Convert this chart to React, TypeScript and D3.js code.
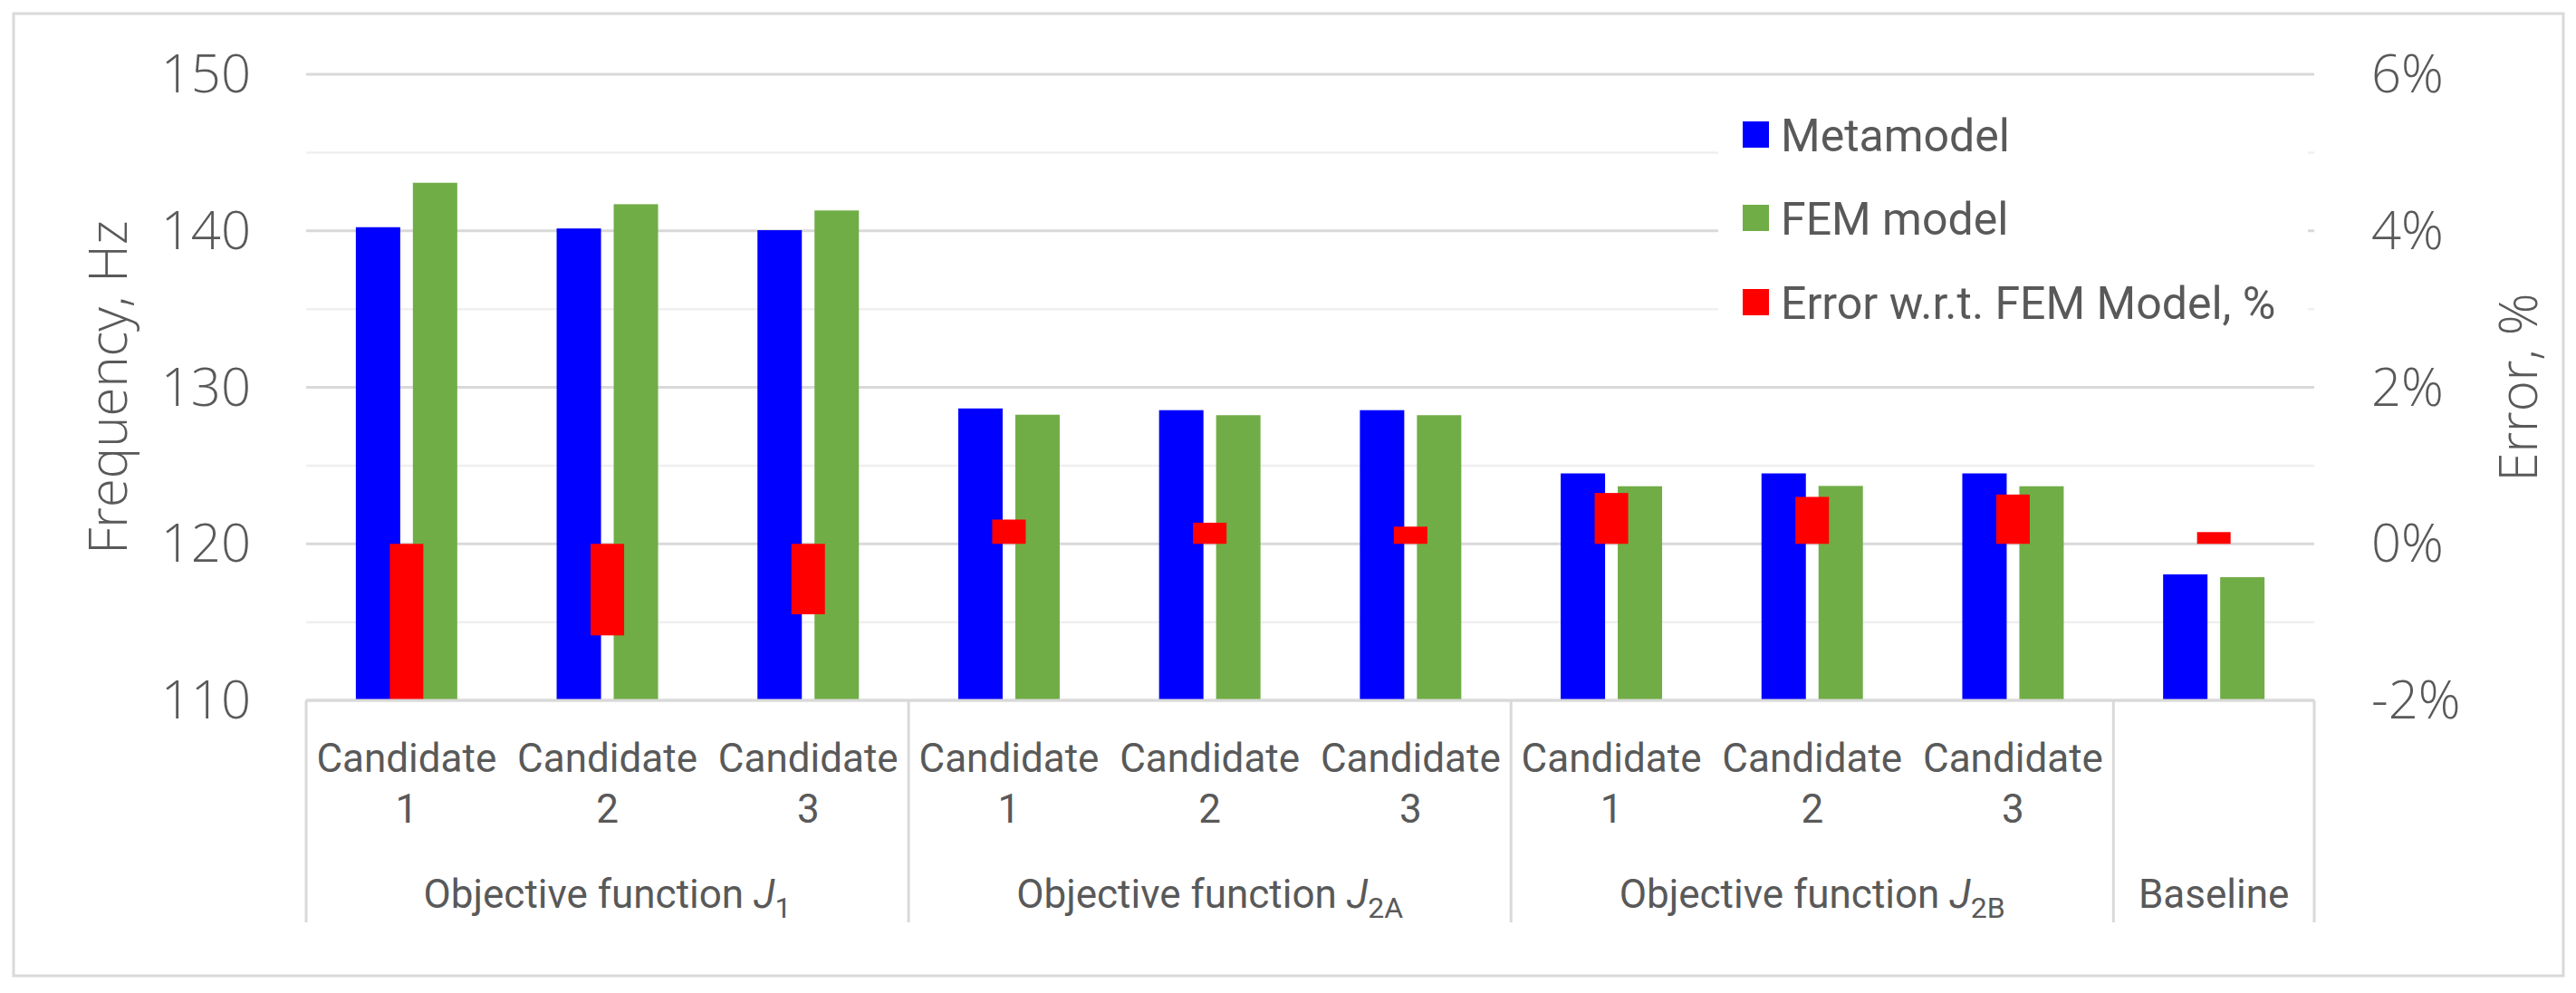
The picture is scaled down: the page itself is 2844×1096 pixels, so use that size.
import { useEffect, useRef } from 'react';
import * as d3 from 'd3';

// Chart values
const candidates = ['1', '2', '3', '1', '2', '3', '1', '2', '3', ''];
const groupNames = ['Objective function ', 'Objective function ', 'Objective function ', 'Baseline'];
const groupSubs = ['1', '2A', '2B', ''];
const groupSizes = [3, 3, 3, 1];
const metamodel = [140.23, 140.15, 140.04, 128.65, 128.54, 128.54, 124.5, 124.5, 124.5, 118.05];
const femModel = [143.07, 141.7, 141.3, 128.25, 128.22, 128.22, 123.68, 123.7, 123.68, 117.87];
const errorPct = [-1.99, -1.17, -0.9, 0.31, 0.27, 0.22, 0.65, 0.6, 0.63, 0.15];
const freqTicks = [110, 120, 130, 140, 150];
const freqMinorTicks = [115, 125, 135, 145];
const errorTicks = [-2, 0, 2, 4, 6];
const legendLabels = ['Metamodel', 'FEM model', 'Error w.r.t. FEM Model, %'];

const W = 2844;
const H = 1096;
const COLORS = ['#0000ff', '#70ad47', '#ff0000'];
const TEXT = '#595959';
const GRID = '#d9d9d9';
const numFont = "'Open Sans', 'DejaVu Sans', sans-serif";
const labelFont = "Roboto, 'Liberation Sans', sans-serif";

const App = () => {
  const svgRef = useRef<SVGSVGElement>(null);

  useEffect(() => {
    if (!svgRef.current) return;
    const svg = d3.select(svgRef.current);
    svg.selectAll('*').remove();

    const plot = { left: 338, right: 2555, top: 82, bottom: 773 };

    const idx = metamodel.map((_, i) => i);
    const x = d3.scaleBand<number>().domain(idx).range([plot.left, plot.right]);
    const sub = d3.scaleBand<string>()
      .domain(['meta', 'fem'])
      .range([0, x.bandwidth()])
      .paddingInner(0.222)
      .paddingOuter(0.871);
    const yL = d3.scaleLinear().domain([110, 150]).range([plot.bottom, plot.top]);
    const yR = d3.scaleLinear().domain([-2, 6]).range([plot.bottom, plot.top]);

    // outer frame
    svg.append('rect')
      .attr('x', 15).attr('y', 15)
      .attr('width', 2815).attr('height', 1062)
      .attr('fill', '#fff')
      .attr('stroke', GRID)
      .attr('stroke-width', 3);

    // gridlines
    svg.append('g').selectAll('line')
      .data(freqMinorTicks)
      .enter().append('line')
      .attr('x1', plot.left).attr('x2', plot.right)
      .attr('y1', d => yL(d)).attr('y2', d => yL(d))
      .attr('stroke', '#efefef').attr('stroke-width', 2.5);

    svg.append('g').selectAll('line')
      .data(freqTicks)
      .enter().append('line')
      .attr('x1', plot.left).attr('x2', plot.right)
      .attr('y1', d => yL(d)).attr('y2', d => yL(d))
      .attr('stroke', GRID).attr('stroke-width', 3);

    // legend background hides gridlines behind it
    svg.append('rect')
      .attr('x', 1897).attr('y', 105)
      .attr('width', 651).attr('height', 268)
      .attr('fill', '#fff');

    // primary bars
    const bars = svg.append('g');
    bars.selectAll('.meta')
      .data(metamodel)
      .enter().append('rect')
      .attr('x', (_, i) => (x(i) as number) + (sub('meta') as number))
      .attr('y', d => yL(d))
      .attr('width', sub.bandwidth())
      .attr('height', d => yL(110) - yL(d))
      .attr('fill', COLORS[0]);

    bars.selectAll('.fem')
      .data(femModel)
      .enter().append('rect')
      .attr('x', (_, i) => (x(i) as number) + (sub('fem') as number))
      .attr('y', d => yL(d))
      .attr('width', sub.bandwidth())
      .attr('height', d => yL(110) - yL(d))
      .attr('fill', COLORS[1]);

    // secondary bars (error)
    const errW = x.bandwidth() * 0.167;
    bars.selectAll('.err')
      .data(errorPct)
      .enter().append('rect')
      .attr('x', (_, i) => (x(i) as number) + x.bandwidth() / 2 - errW / 2)
      .attr('y', d => Math.min(yR(d), yR(0)))
      .attr('width', errW)
      .attr('height', d => Math.abs(yR(d) - yR(0)))
      .attr('fill', COLORS[2]);

    // category axis line
    svg.append('line')
      .attr('x1', plot.left).attr('x2', plot.right)
      .attr('y1', plot.bottom).attr('y2', plot.bottom)
      .attr('stroke', GRID).attr('stroke-width', 3);

    // group separators
    const bounds = [0];
    groupSizes.forEach(s => bounds.push(bounds[bounds.length - 1] + s));
    const xEdge = (k: number) => plot.left + k * x.step();
    svg.append('g').selectAll('line')
      .data(bounds)
      .enter().append('line')
      .attr('x1', d => xEdge(d)).attr('x2', d => xEdge(d))
      .attr('y1', plot.bottom).attr('y2', 1018)
      .attr('stroke', GRID).attr('stroke-width', 3);

    // candidate labels
    const cat = svg.append('g')
      .attr('font-family', labelFont)
      .attr('font-size', 44)
      .attr('fill', TEXT)
      .attr('text-anchor', 'middle');
    candidates.forEach((c, i) => {
      if (!c) return;
      const cx = (x(i) as number) + x.bandwidth() / 2;
      const t = cat.append('text').attr('x', cx).attr('y', 852);
      t.append('tspan').attr('x', cx).text('Candidate');
      t.append('tspan').attr('x', cx).attr('y', 908).text(c);
    });

    // group labels
    groupNames.forEach((g, k) => {
      const cx = (xEdge(bounds[k]) + xEdge(bounds[k + 1])) / 2;
      const t = cat.append('text').attr('x', cx).attr('y', 1002);
      t.append('tspan').text(g);
      if (groupSubs[k]) {
        t.append('tspan').attr('font-style', 'italic').text('J');
        t.append('tspan').attr('font-size', 32).attr('dy', 11).text(groupSubs[k]);
      }
    });

    // left axis labels
    svg.append('g')
      .attr('font-family', numFont)
      .attr('font-weight', 300)
      .attr('font-size', 58)
      .attr('fill', TEXT)
      .attr('text-anchor', 'end')
      .selectAll('text')
      .data(freqTicks)
      .enter().append('text')
      .attr('x', 277)
      .attr('y', d => yL(d) + 20)
      .text(d => d3.format('d')(d));

    // right axis labels
    svg.append('g')
      .attr('font-family', numFont)
      .attr('font-weight', 300)
      .attr('font-size', 58)
      .attr('fill', TEXT)
      .attr('text-anchor', 'start')
      .selectAll('text')
      .data(errorTicks)
      .enter().append('text')
      .attr('x', 2618)
      .attr('y', d => yR(d) + 20)
      .text(d => `${d}%`);

    // axis titles
    const midY = (plot.top + plot.bottom) / 2;
    svg.append('text')
      .attr('transform', `translate(140,${midY}) rotate(-90)`)
      .attr('text-anchor', 'middle')
      .attr('font-family', numFont)
      .attr('font-weight', 300)
      .attr('font-size', 58)
      .attr('fill', TEXT)
      .text('Frequency, Hz');

    svg.append('text')
      .attr('transform', `translate(2801,${midY}) rotate(-90)`)
      .attr('text-anchor', 'middle')
      .attr('font-family', numFont)
      .attr('font-weight', 300)
      .attr('font-size', 58)
      .attr('fill', TEXT)
      .text('Error, %');

    // legend
    const legendY = [149, 241, 334];
    const lg = svg.append('g')
      .attr('font-family', labelFont)
      .attr('font-size', 50)
      .attr('fill', TEXT);
    legendLabels.forEach((l, i) => {
      lg.append('rect')
        .attr('x', 1924).attr('y', legendY[i] - 15)
        .attr('width', 29).attr('height', 29)
        .attr('fill', COLORS[i]);
      lg.append('text')
        .attr('x', 1966).attr('y', legendY[i] + 18)
        .text(l);
    });
  }, []);

  return (
    <div style={{ position: 'absolute', left: 0, top: 0, background: '#fff' }}>
      <svg ref={svgRef} width={W} height={H} style={{ display: 'block' }} />
    </div>
  );
};

export default App;
